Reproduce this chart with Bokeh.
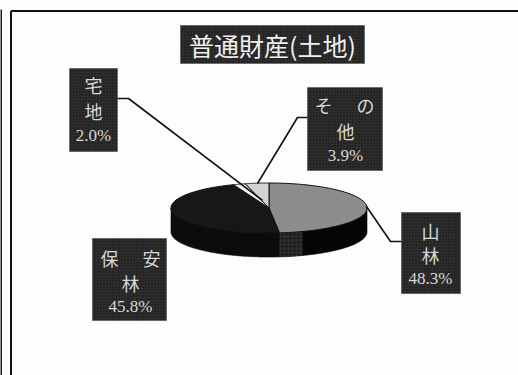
import numpy as np
from bokeh.core.properties import value
from bokeh.embed import file_html
from bokeh.models import Range1d
from bokeh.plotting import figure
from bokeh.resources import INLINE

# Shares of general property (land), clockwise from twelve o'clock
categories = ["山林", "保安林", "宅地", "その他"]
shares = [48.3, 45.8, 2.0, 3.9]
top_colors = ["#8c8c8c", "#171717", "#f2f2f2", "#d2d2d2"]
side_colors = ["#050505", "#0c0c0c", "#0c0c0c", "#0c0c0c"]
title = "普通財産(土地)"

# Layout of the pie, in canvas pixels
CX, CY, RX, RY, DEPTH = 268.5, 207.5, 98, 25, 24

# Label boxes: left, right, top, bottom, and per-line text rows
label_boxes = {
    "宅地": (69, 117, 68, 151),
    "その他": (307, 382, 87, 170),
    "山林": (401, 460, 212, 293),
    "保安林": (92, 166, 238, 320),
}
label_rows = {
    "宅地": [("宅", 93, 84), ("地", 93, 110)],
    "その他": [("そ", 323, 104), ("の", 365, 104), ("他", 345, 130)],
    "山林": [("山", 430, 230), ("林", 430, 254)],
    "保安林": [("保", 109, 257), ("安", 151, 257), ("林", 130, 282)],
}
percent_anchor = {"宅地": (93, 135), "その他": (345, 155), "山林": (430, 278), "保安林": (130, 306)}
leaders = {
    "宅地": ([117, 128, 262], [98, 98, 200]),
    "その他": ([307, 297, 257], [117, 117, 183]),
    "山林": ([401, 390, 366], [241, 241, 206]),
}

p = figure(width=518, height=375, output_backend="svg", toolbar_location=None,
           x_range=Range1d(0, 518), y_range=Range1d(375, 0),
           min_border=0, background_fill_color="#fdfdfd", border_fill_color="#fdfdfd")
p.axis.visible = False
p.grid.visible = False
p.outline_line_color = None

# Page frame
p.line([10.5, 10.5], [375, 10.5], line_color="#111111", line_width=2)
p.line([10.5, 518], [10.5, 10.5], line_color="#111111", line_width=2)
p.line([0.5, 0.5], [375, 9], line_color="#222222", line_width=2)


def rim(a0, a1, n=60):
    t = np.radians(np.linspace(a0, a1, n))
    return CX + RX * np.sin(t), CY - RY * np.cos(t)


edges = np.concatenate([[0], np.cumsum(shares)]) / sum(shares) * 360

# Side wall: only the front half of the rim is visible
for i in range(len(shares)):
    a0, a1 = max(edges[i], 90), min(edges[i + 1], 270)
    if a0 >= a1:
        continue
    x, y = rim(a0, a1)
    p.patch(np.r_[x, x[::-1]], np.r_[y, y[::-1] + DEPTH],
            fill_color=side_colors[i], line_color="#000000", line_width=0.6)

# Lighter band where the forest slice meets the viewer
x, y = rim(edges[1] - 14, edges[1])
p.patch(np.r_[x, x[::-1]], np.r_[y, y[::-1] + DEPTH],
        fill_color="#2c2c2c", hatch_pattern="dot", hatch_color="#0c0c0c", hatch_scale=4,
        line_color=None)

# Top face
for i in range(len(shares)):
    x, y = rim(edges[i], edges[i + 1])
    p.patch(np.r_[CX, x], np.r_[CY, y], fill_color=top_colors[i],
            line_color="#111111", line_width=1)

# Leader lines
for xs, ys in leaders.values():
    p.line(xs, ys, line_color="#111111", line_width=1.6)

# Label boxes
halftone = dict(fill_color="#2e2e2e", hatch_pattern="dot", hatch_color="#111111",
                hatch_scale=3, line_color="#555555", line_width=0.6)
for l, r, t, b in label_boxes.values():
    p.quad(left=[l], right=[r], top=[t], bottom=[b], **halftone)
p.quad(left=[180], right=[364], top=[25], bottom=[63], **halftone)

# Title and label texts
p.text([272], [44], text=[title], text_color="#f0f0f0", text_font=value("Noto Sans CJK JP"),
       text_font_size="25px", text_align="center", text_baseline="middle")
for name, share in zip(categories, shares):
    rows = label_rows[name]
    p.text([r[1] for r in rows], [r[2] for r in rows], text=[r[0] for r in rows],
           text_color="#d8d8d8", text_font=value("Noto Sans CJK JP"), text_font_size="18px",
           text_align="center", text_baseline="middle")
    ax, ay = percent_anchor[name]
    p.text([ax], [ay], text=[f"{share:.1f}%"], text_color="#d8d8d8",
           text_font=value("Liberation Serif"), text_font_size="17px",
           text_align="center", text_baseline="middle")

open("out.html", "w").write(file_html(p, INLINE))
